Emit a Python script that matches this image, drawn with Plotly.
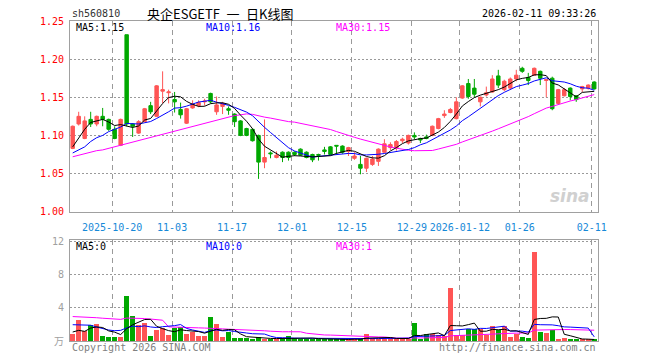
import pandas as pd
import plotly.graph_objects as go

# ---------------- data ----------------
holidays = ["2026-01-01", "2026-01-02"]
dates = [d for d in pd.bdate_range("2025-10-09", "2026-02-11").strftime("%Y-%m-%d") if d not in holidays]

open_ = [1.083, 1.115, 1.096, 1.121, 1.115, 1.125, 1.121, 1.108, 1.087, 1.232,
         1.115, 1.103, 1.118, 1.139, 1.125, 1.158, 1.156, 1.147, 1.134, 1.116,
         1.136, 1.139, 1.144, 1.155, 1.131, 1.138, 1.135, 1.128, 1.119, 1.109,
         1.108, 1.100, 1.065, 1.077, 1.071, 1.078, 1.078, 1.078, 1.082, 1.078,
         1.075, 1.075, 1.081, 1.085, 1.087, 1.086, 1.079, 1.070, 1.062, 1.057,
         1.062, 1.066, 1.078, 1.084, 1.084, 1.093, 1.090, 1.100, 1.096, 1.098,
         1.100, 1.109, 1.126, 1.130, 1.122, 1.149, 1.168, 1.162, 1.144, 1.153,
         1.157, 1.178, 1.160, 1.162, 1.174, 1.188, 1.176, 1.179, 1.184, 1.172,
         1.175, 1.142, 1.152, 1.162, 1.152, 1.161, 1.162, 1.170]
high = [1.113, 1.131, 1.125, 1.131, 1.126, 1.136, 1.122, 1.112, 1.122, 1.232,
        1.116, 1.120, 1.136, 1.144, 1.166, 1.184, 1.160, 1.157, 1.143, 1.136,
        1.146, 1.146, 1.148, 1.156, 1.151, 1.144, 1.138, 1.129, 1.120, 1.110,
        1.109, 1.101, 1.121, 1.079, 1.079, 1.079, 1.079, 1.079, 1.083, 1.079,
        1.076, 1.076, 1.085, 1.086, 1.087, 1.087, 1.085, 1.078, 1.073, 1.071,
        1.073, 1.083, 1.095, 1.091, 1.094, 1.097, 1.101, 1.104, 1.097, 1.101,
        1.113, 1.123, 1.133, 1.136, 1.150, 1.166, 1.174, 1.174, 1.151, 1.164,
        1.179, 1.186, 1.173, 1.176, 1.186, 1.190, 1.182, 1.189, 1.185, 1.173,
        1.177, 1.161, 1.162, 1.163, 1.153, 1.165, 1.167, 1.171]
low = [1.082, 1.113, 1.095, 1.111, 1.112, 1.112, 1.106, 1.095, 1.086, 1.112,
       1.098, 1.102, 1.117, 1.128, 1.124, 1.142, 1.142, 1.130, 1.122, 1.115,
       1.135, 1.137, 1.139, 1.142, 1.127, 1.128, 1.127, 1.111, 1.099, 1.099,
       1.092, 1.043, 1.057, 1.070, 1.070, 1.065, 1.067, 1.073, 1.073, 1.070,
       1.065, 1.067, 1.075, 1.074, 1.075, 1.076, 1.073, 1.068, 1.049, 1.052,
       1.060, 1.060, 1.077, 1.081, 1.080, 1.090, 1.088, 1.095, 1.090, 1.095,
       1.099, 1.108, 1.123, 1.129, 1.121, 1.148, 1.148, 1.150, 1.138, 1.151,
       1.156, 1.162, 1.158, 1.160, 1.171, 1.182, 1.166, 1.178, 1.166, 1.150,
       1.133, 1.140, 1.151, 1.146, 1.144, 1.157, 1.160, 1.160]
close = [1.112, 1.125, 1.119, 1.115, 1.125, 1.121, 1.108, 1.096, 1.121, 1.115,
         1.112, 1.118, 1.135, 1.131, 1.165, 1.160, 1.157, 1.144, 1.127, 1.135,
         1.141, 1.143, 1.145, 1.144, 1.140, 1.142, 1.133, 1.118, 1.100, 1.100,
         1.093, 1.065, 1.071, 1.076, 1.074, 1.071, 1.071, 1.075, 1.074, 1.071,
         1.068, 1.074, 1.079, 1.075, 1.086, 1.078, 1.084, 1.073, 1.057, 1.070,
         1.069, 1.082, 1.089, 1.088, 1.092, 1.095, 1.100, 1.098, 1.094, 1.096,
         1.112, 1.122, 1.128, 1.134, 1.144, 1.165, 1.151, 1.154, 1.150, 1.156,
         1.174, 1.166, 1.171, 1.174, 1.179, 1.184, 1.172, 1.188, 1.175, 1.173,
         1.135, 1.160, 1.160, 1.151, 1.147, 1.164, 1.166, 1.161]
# volume in 万 (10k) lots
volume = [0.88, 2.48, 1.20, 1.88, 2.00, 0.56, 0.44, 0.44, 0.44, 5.47,
          2.96, 1.88, 2.16, 0.56, 1.28, 1.56, 0.68, 1.52, 1.72, 0.80,
          1.08, 0.56, 0.56, 2.84, 2.00, 0.44, 1.08, 0.36, 0.36, 0.36,
          0.20, 0.44, 0.28, 0.28, 0.28, 0.28, 0.56, 0.40, 0.30, 0.28,
          0.22, 0.22, 0.22, 0.20, 0.17, 0.17, 0.18, 0.36, 0.17, 0.84,
          0.36, 0.28, 0.28, 0.36, 0.28, 0.28, 0.28, 2.16, 0.28, 0.88,
          0.84, 0.68, 0.56, 6.35, 0.77, 0.68, 1.48, 1.48, 1.48, 0.77,
          1.76, 1.28, 1.76, 0.48, 0.88, 0.48, 0.36, 10.75, 1.08, 0.96,
          1.36, 0.28, 0.36, 0.20, 0.20, 0.17, 0.17, 0.17]

# moving-average values at the start of the window (history lies before the chart)
ma5_head = [1.085, 1.096, 1.108, 1.117]
ma10_head = [1.077, 1.081, 1.085, 1.092, 1.097, 1.100, 1.105, 1.108, 1.111]
ma30_head = [1.072, 1.074, 1.076, 1.078, 1.080, 1.081, 1.083, 1.085, 1.087, 1.090,
             1.092, 1.094, 1.096, 1.098, 1.100, 1.102, 1.104, 1.106, 1.108, 1.110,
             1.112, 1.114, 1.116, 1.118, 1.120, 1.122, 1.124, 1.126, 1.127]
vma5_head = [1.08, 1.28, 1.16, 1.56]
vma10_head = [1.96, 1.96, 1.92, 1.90, 1.68, 1.48, 1.32, 1.24, 1.28]
vma30_head = [2.94, 2.92, 2.90, 2.84, 2.80, 2.74, 2.68, 2.62, 2.60, 2.76,
              2.76, 2.72, 2.70, 2.64, 2.60, 2.50, 1.70, 1.66, 1.64, 1.62,
              1.60, 1.58, 1.56, 1.50, 1.48, 1.46, 1.42, 1.40, 1.38]

tick_dates = ["2025-10-20", "2025-11-03", "2025-11-17", "2025-12-01", "2025-12-15",
              "2025-12-29", "2026-01-12", "2026-01-26", "2026-02-11"]
tick_text = ["2025-10-20", "11-03", "11-17", "12-01", "12-15",
             "12-29", "2026-01-12", "01-26", "02-11"]
price_ticks = [1.00, 1.05, 1.10, 1.15, 1.20, 1.25]
vol_ticks = [4, 8, 12]

# ---------------- derived ----------------
def ma(values, n, head):
    s = pd.Series(values).rolling(n).mean().tolist()
    return head + s[n - 1:]

idx = list(range(len(dates)))
ma5 = ma(close, 5, ma5_head)
ma10 = ma(close, 10, ma10_head)
ma30 = ma(close, 30, ma30_head)
vma5 = ma(volume, 5, vma5_head)
vma10 = ma(volume, 10, vma10_head)
vma30 = ma(volume, 30, vma30_head)

RED = "#ff5555"
GREEN = "#00a800"
vol_colors = [RED if c >= o else GREEN for o, c in zip(open_, close)]
tickvals = [dates.index(d) - 0.42 for d in tick_dates]

MONO = "DejaVu Sans Mono"
GRID = "#9a9a9a"

fig = go.Figure()
fig.add_trace(go.Candlestick(
    x=idx, open=open_, high=high, low=low, close=close,
    increasing=dict(line=dict(color=RED, width=1), fillcolor=RED),
    decreasing=dict(line=dict(color=GREEN, width=1), fillcolor=GREEN),
    whiskerwidth=0, xaxis="x", yaxis="y", showlegend=False, hoverinfo="skip"))
for vals, col in [(ma30, "#ff00ff"), (ma10, "#0000ff"), (ma5, "#000000")]:
    fig.add_trace(go.Scatter(x=idx, y=vals, mode="lines", line=dict(color=col, width=1),
                             xaxis="x", yaxis="y", showlegend=False, hoverinfo="skip"))

fig.add_trace(go.Bar(x=idx, y=volume, marker=dict(color=vol_colors, line=dict(width=0)),
                     width=0.8, xaxis="x2", yaxis="y2", showlegend=False, hoverinfo="skip"))
for vals, col in [(vma30, "#ff00ff"), (vma10, "#0000ff"), (vma5, "#000000")]:
    fig.add_trace(go.Scatter(x=idx, y=vals, mode="lines", line=dict(color=col, width=1),
                             xaxis="x2", yaxis="y2", showlegend=False, hoverinfo="skip"))

xr = [-0.45, len(dates) - 1 + 0.63]
common_x = dict(range=xr, showgrid=True, gridcolor=GRID, griddash="5px,4px", gridwidth=1,
                tickvals=tickvals, showline=True, linecolor="#a0a0a0", linewidth=1,
                mirror=True, zeroline=False, fixedrange=True, rangeslider=dict(visible=False),
                layer="below traces")
fig.update_layout(
    width=660, height=360,
    margin=dict(l=70, r=62, t=21, b=19),
    paper_bgcolor="white", plot_bgcolor="white",
    bargap=0, boxgap=0.18,
    xaxis=dict(**common_x, anchor="y", domain=[0, 1], ticktext=tick_text, ticks="",
               tickfont=dict(family=MONO, size=10, color="#1689d8"), ticklabelstandoff=6),
    xaxis2=dict(**common_x, anchor="y2", domain=[0, 1], showticklabels=False, ticks=""),
    yaxis=dict(domain=[0.4041, 1], range=[1.0, 1.25], tickvals=price_ticks,
               ticktext=[f"{v:.2f}" for v in price_ticks], showgrid=True, gridcolor=GRID,
               griddash="2px,2px", showline=True, linecolor="#a0a0a0", linewidth=1, mirror=True,
               zeroline=False, ticks="", tickfont=dict(family=MONO, size=10, color="#ff0000"),
               ticklabelstandoff=3),
    yaxis2=dict(domain=[0, 0.3156], range=[0, 12.15], tickvals=vol_ticks,
                ticktext=[str(v) for v in vol_ticks], showgrid=True, gridcolor=GRID,
                griddash="2px,2px", showline=True, linecolor="#a0a0a0", linewidth=1, mirror=True,
                zeroline=False, ticks="", tickfont=dict(family=MONO, size=10, color="#a0a0a0"),
                ticklabelstandoff=3),
)

def txt(x, y, s, color="#000000", size=10, family=MONO, xanchor="left", **kw):
    fig.add_annotation(x=x, y=y, xref="paper", yref="paper", text=s, showarrow=False,
                       xanchor=xanchor, yanchor="middle",
                       font=dict(family=family, size=size, color=color), **kw)

W, H = 528, 320
def px(x, y):
    return (x - 70) / W, (341 - y) / H

# header
txt(*px(70, 13), "sh560810", color="#333333")
txt(*px(220, 13), "央企ESGETF\u2002一\u2002日K线图", size=13, family="Noto Sans CJK SC",
    xanchor="center")
txt(*px(598, 13), "2026-02-11 09:33:26", xanchor="right")
# price legends
txt(*px(74, 27), "MA5:1.15")
txt(*px(204, 27), "MA10:1.16", color="#0000ff")
txt(*px(334, 27), "MA30:1.15", color="#ff00ff")
# volume legends
txt(*px(74, 246), "MA5:0")
txt(*px(204, 246), "MA10:0", color="#0000ff")
txt(*px(334, 246), "MA30:1", color="#ff00ff")
# footer
txt(*px(70, 347), "Copyright 2026 SINA.COM", color="#808080")
txt(*px(598, 347), "http://finance.sina.com.cn", color="#808080", xanchor="right")
txt(*px(66, 340), "万", color="#a0a0a0", size=10, family="Noto Sans CJK SC", xanchor="right")
# watermark
txt(*px(592, 196), "<b><i>sina</i></b>", color="#d0d0d0", size=17, family="DejaVu Sans",
    xanchor="right")

fig.write_html("out.html")
